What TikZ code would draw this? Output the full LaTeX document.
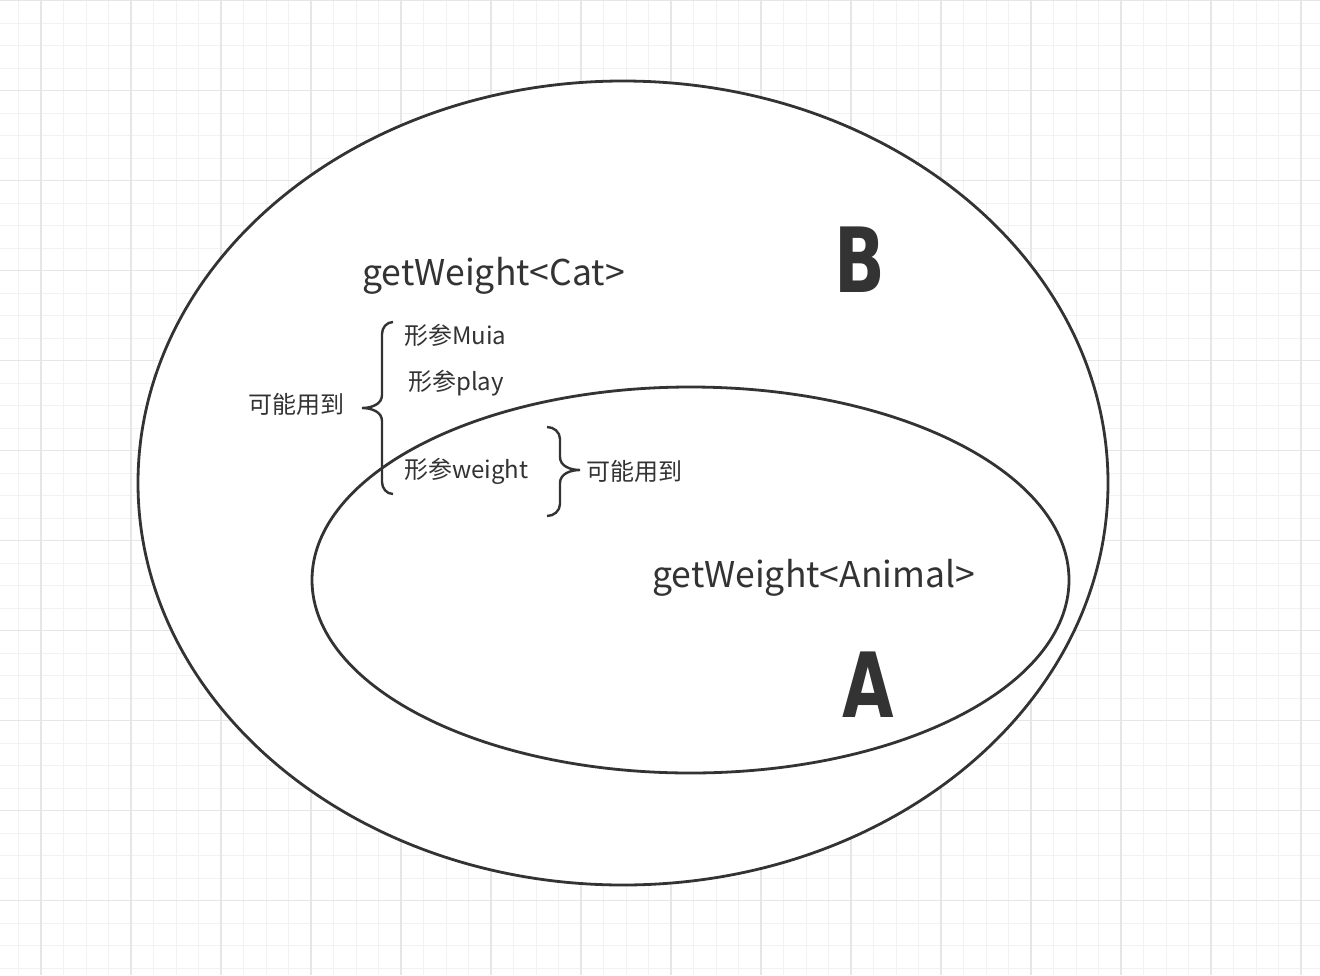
\documentclass[tikz,border=0pt]{standalone}
\usepackage{fontspec}
\setmainfont{Noto Sans CJK SC}
\newfontfamily\letterfont[FakeStretch=0.74]{DejaVu Sans}
\usetikzlibrary{shapes.geometric}
\definecolor{ink}{HTML}{333333}
\definecolor{gridminor}{HTML}{F2F2F2}
\definecolor{gridmajor}{HTML}{E6E6E6}

\begin{document}
\begin{tikzpicture}[x=1pt,y=-1pt,
	set/.style={draw=ink,ellipse,fill=white,line width=2.8pt,inner sep=0},
	txt/.style={text=ink,inner sep=0,anchor=west,font=\fontsize{24}{28}\selectfont},
	fname/.style={text=ink,inner sep=0,anchor=base west,font=\fontsize{35.5}{40}\selectfont},
	setname/.style={text=ink,inner sep=0,anchor=south west,font=\fontsize{90}{90}\selectfont\letterfont\bfseries},
	brace/.style={draw=ink,line width=2.4pt}]
	\tikzset{minor/.style={draw=gridminor,line width=1pt}}
	\tikzset{major/.style={draw=gridmajor,line width=1.3pt}}
	\useasboundingbox[fill=white] (0,0) rectangle (1320,975);
	% grid paper
	\foreach \i in {0,...,58} \draw[minor] ({18.5+22.5*\i},0) -- ++(0,975);
	\foreach \i in {0,...,43} \draw[minor] (0,{0.5+22.5*\i}) -- ++(1320,0);
	\foreach \i in {0,...,14} \draw[major] ({41+90*\i},0) -- ++(0,975);
	\foreach \i in {0,...,10} \draw[major] (0,{0.5+90*\i}) -- ++(1320,0);
	% the two sets
	\node [set, minimum width=970, minimum height=804] (setb) at (623,483) {};
	\node [set, minimum width=757, minimum height=386] (seta) at (690.5,580) {};
	\node [setname] (nameb) at (834,293) {B};
	\node [setname] (namea) at (842,718) {A};
	\node [fname] (cat) at (362,285) {getWeight<Cat>};
	\node [fname] (animal) at (652,587) {getWeight<Animal>};
	% parameters
	\node [txt] (muia) at (404,335) {形参Muia};
	\node [txt] (play) at (408,383) {形参play};
	\node [txt] (weight) at (404,471) {形参weight};
	\node [txt] (usel) at (248,404) {可能用到};
	\node [txt] (user) at (586,471) {可能用到};
	\draw [brace] (393,322) to[out=180,in=90] (382,334) -- (382,395) to[out=-90,in=0] (362,408)
		to[out=0,in=90] (382,421) -- (382,482) to[out=-90,in=180] (393,494);
	\draw [brace] (547,427) to[out=0,in=90] (560,439) -- (560,457) to[out=-90,in=180] (580,470)
		to[out=180,in=90] (560,483) -- (560,504) to[out=-90,in=0] (547,516);
\end{tikzpicture}
\end{document}
